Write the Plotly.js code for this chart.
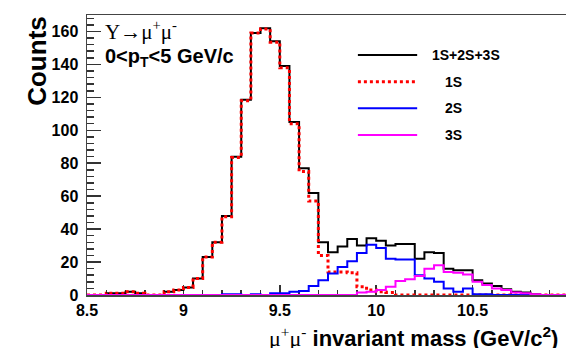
<!DOCTYPE html>
<html>
<head>
<meta charset="utf-8">
<script src="https://cdn.plot.ly/plotly-3.0.1.min.js"></script>
<style>
html, body { margin: 0; padding: 0; overflow: hidden; background: #fff; }
#chart { width: 572px; height: 348px; }
</style>
</head>
<body>
<div id="chart"></div>
<script>
// Bin edges of the invariant-mass histogram (GeV/c^2)
const binEdges = [8.50, 8.55, 8.60, 8.65, 8.70, 8.75, 8.80, 8.85, 8.90, 8.95,
                  9.00, 9.05, 9.10, 9.15, 9.20, 9.25, 9.30, 9.35, 9.40, 9.45,
                  9.50, 9.55, 9.60, 9.65, 9.70, 9.75, 9.80, 9.85, 9.90, 9.95,
                  10.00, 10.05, 10.10, 10.15, 10.20, 10.25, 10.30, 10.35, 10.40, 10.45,
                  10.50, 10.55, 10.60, 10.65, 10.70, 10.75, 10.80, 10.85, 10.90, 10.95,
                  11.00];

// Counts per bin (50 bins)
const total = [0, 0, 1, 1, 2, 1, 0, 0, 2, 3,
               4.5, 10, 23, 32, 48, 84, 118.5, 159, 162, 154,
               139, 105, 77, 62, 32, 26, 29.5, 34, 30, 34.5,
               33, 30, 31, 31, 22, 26, 25.5, 16, 15, 15,
               9, 7, 5.5, 3.5, 2, 1.5, 0.5, 0, 0, 0];
const s1 = [0, 0, 1, 1, 2, 1, 0, 0, 2, 3,
            4.5, 10, 23, 32, 47.5, 83.5, 118, 159, 161.5, 153.5,
            138, 104, 75, 57, 24, 14, 14, 13.5, 5, 3,
            2, 1.5, 0, 0, 0, 0, 0, 0, 0, 0,
            0, 0, 0, 0, 0, 0, 0, 0, 0, 0];
const s2 = [0, 0, 0, 0, 0, 0, 0, 0, 0, 0,
            0, 0, 0, 0, 0.5, 0.5, 0, 0.5, 0, 1,
            1, 2, 2.5, 5.5, 9, 13, 17, 20.5, 25.5, 30.5,
            28.5, 22, 21.5, 21.5, 12, 10, 8, 4, 2, 4,
            0.5, 0.5, 0, 0, 0, 0, 0, 0, 0, 0];
const s3 = [0, 0, 0, 0, 0, 0, 0, 0, 0, 0,
            0, 0, 0, 0, 0, 0, 0, 0, 0, 0,
            0, 0, 0, 0, 0, 0, 0, 0, 1.5, 2,
            3, 5, 8.5, 9.5, 11.5, 16, 18, 14, 13.5, 12.5,
            8, 6, 4, 3, 1.5, 1, 0.5, 0, 0, 0];

const seriesNames = ['1S+2S+3S', '1S', '2S', '3S'];
const seriesColors = ['#000000', '#ff0000', '#0000ff', '#ff00ff'];
const seriesDash = ['solid', 'dot', 'solid', 'solid'];
const seriesWidth = [2, 3, 2, 2];
const seriesData = [total, s1, s2, s3];

const FONT = 'Liberation Sans, Arial, Helvetica, sans-serif';
const SERIF = 'Liberation Serif, Times New Roman, serif';

function stepY(v) { return v.concat([v[v.length - 1]]); }

const traces = seriesData.map((v, i) => ({
  type: 'scatter',
  mode: 'lines',
  x: binEdges,
  y: stepY(v),
  name: seriesNames[i],
  line: { shape: 'hv', color: seriesColors[i], width: seriesWidth[i], dash: seriesDash[i] },
  cliponaxis: false,
  hoverinfo: 'skip'
}));

// manual legend (paper coordinates)
const legY = [0.857, 0.762, 0.667, 0.571];
const legTextX = [0.712, 0.739, 0.739, 0.739];
const shapes = [];
const annotations = [];
seriesNames.forEach((n, i) => {
  shapes.push({
    type: 'line', xref: 'paper', yref: 'paper',
    x0: 0.562, x1: 0.685, y0: legY[i], y1: legY[i],
    line: { color: seriesColors[i], width: seriesWidth[i], dash: seriesDash[i] }
  });
  annotations.push({
    xref: 'paper', yref: 'paper', x: legTextX[i], y: legY[i],
    xanchor: 'left', yanchor: 'middle', showarrow: false,
    text: n, font: { family: FONT, size: 14, weight: 700, color: '#000' }
  });
});

annotations.push({
  xref: 'paper', yref: 'paper', x: 0.033, y: 0.946,
  xanchor: 'left', yanchor: 'middle', showarrow: false,
  text: 'Υ→μ<sup>+</sup>μ<sup>-</sup>',
  font: { family: SERIF, size: 21, color: '#000' }
});
annotations.push({
  xref: 'paper', yref: 'paper', x: 0.033, y: 0.85,
  xanchor: 'left', yanchor: 'middle', showarrow: false,
  text: '0&lt;p<sub>T</sub>&lt;5 GeV/c',
  font: { family: FONT, size: 20, weight: 700, color: '#000' }
});
annotations.push({
  xref: 'paper', yref: 'paper', x: 0.373, y: -0.15,
  xanchor: 'left', yanchor: 'middle', showarrow: false,
  text: '<span style="font-family:Liberation Serif, Times New Roman, serif;font-weight:normal">μ<sup>+</sup>μ<sup>-</sup></span> invariant mass (GeV/c<sup>2</sup>)',
  font: { family: FONT, size: 22, weight: 700, color: '#000' }
});
annotations.push({
  xref: 'paper', yref: 'paper', x: -0.104, y: 0.836,
  xanchor: 'center', yanchor: 'middle', showarrow: false, textangle: -90,
  text: 'Counts',
  font: { family: FONT, size: 26, weight: 700, color: '#000' }
});

const axisCommon = {
  showgrid: false, zeroline: false,
  showline: true, linecolor: '#444', linewidth: 1.5, mirror: true,
  ticks: 'inside', tickcolor: '#333', tickwidth: 1.5,
  tickfont: { family: FONT, size: 16, weight: 700, color: '#000' },
  layer: 'below traces'
};

const layout = {
  width: 572, height: 348,
  margin: { l: 87, r: 3, t: 15, b: 53 },
  paper_bgcolor: '#fff', plot_bgcolor: '#fff',
  showlegend: false,
  xaxis: Object.assign({}, axisCommon, {
    range: [8.5, 11], tick0: 8.5, dtick: 0.5, ticklen: 10,
    minor: { dtick: 0.1, tick0: 8.5, ticks: 'inside', ticklen: 5, tickwidth: 1.5, tickcolor: '#333', showgrid: false }
  }),
  yaxis: Object.assign({}, axisCommon, {
    range: [0, 170], tick0: 0, dtick: 20, ticklen: 14, ticklabelstandoff: 4,
    minor: { dtick: 4, tick0: 0, ticks: 'inside', ticklen: 7, tickwidth: 1.5, tickcolor: '#333', showgrid: false }
  }),
  shapes: shapes,
  annotations: annotations
};

Plotly.newPlot('chart', traces, layout, { staticPlot: true, displayModeBar: false });
</script>
</body>
</html>
